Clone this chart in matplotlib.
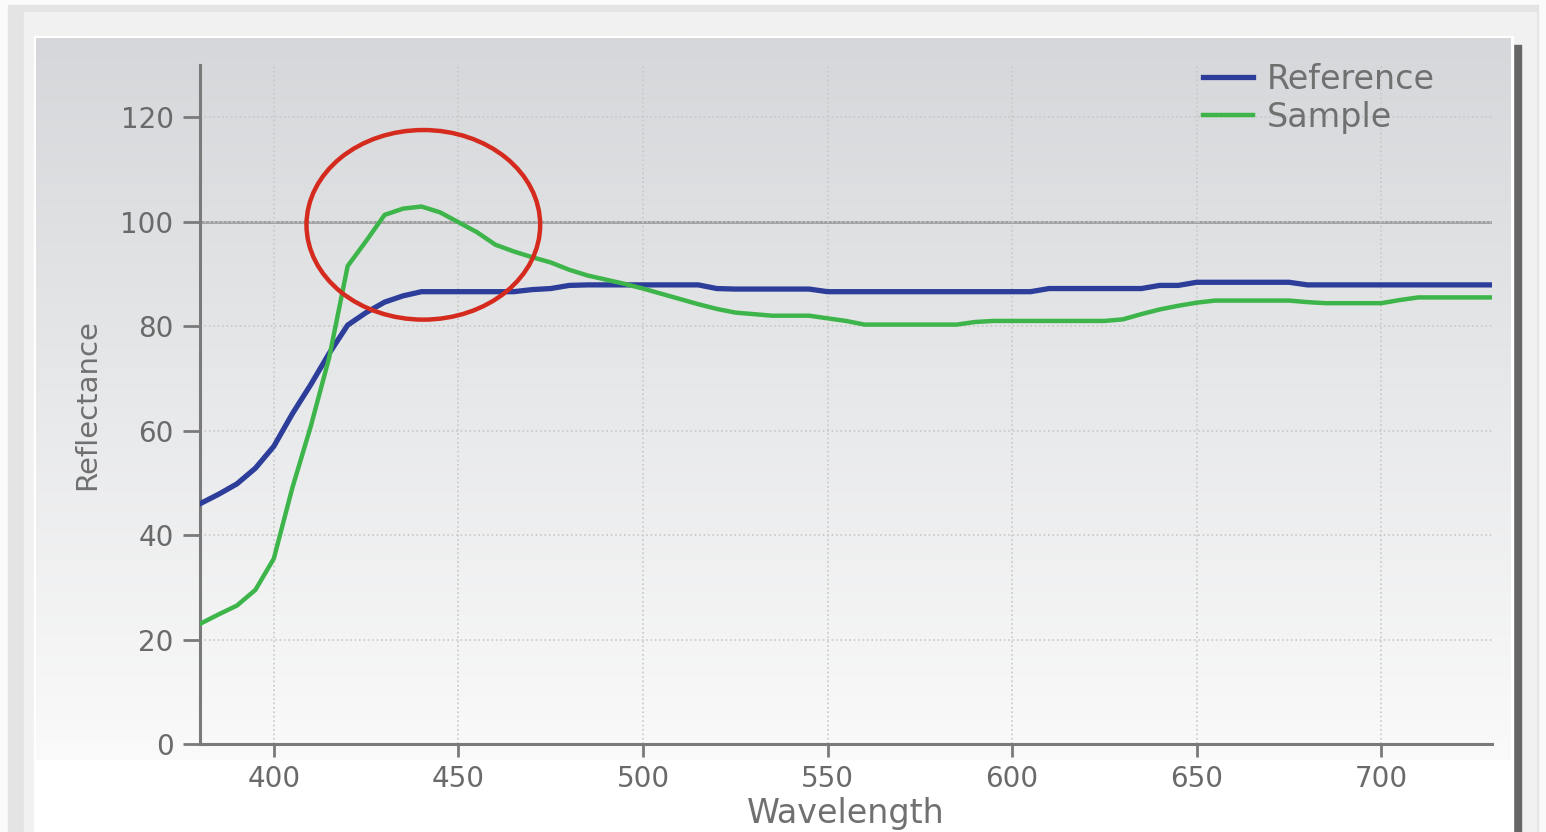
import numpy as np
import matplotlib
matplotlib.use("Agg")
import matplotlib.pyplot as plt
from matplotlib.patches import Rectangle, Ellipse

# wavelength grid (nm)
wavelength = list(range(380, 731, 5))

reference = [46.0, 47.8, 49.8, 52.8, 57.0, 63.2, 68.8, 74.8, 80.2, 82.6,
             84.6, 85.8, 86.6, 86.6, 86.6, 86.6, 86.6, 86.6, 87.0, 87.2,
             87.8, 87.9, 87.9, 87.9, 87.9, 87.9, 87.9, 87.9, 87.2, 87.1,
             87.1, 87.1, 87.1, 87.1, 86.6, 86.6, 86.6, 86.6, 86.6, 86.6,
             86.6, 86.6, 86.6, 86.6, 86.6, 86.6, 87.2, 87.2, 87.2, 87.2,
             87.2, 87.2, 87.8, 87.8, 88.4, 88.4, 88.4, 88.4, 88.4, 88.4,
             87.9, 87.9, 87.9, 87.9, 87.9, 87.9, 87.9, 87.9, 87.9, 87.9,
             87.9]

sample = [23.0, 24.8, 26.5, 29.5, 35.5, 49.0, 60.8, 74.0, 91.5, 96.3,
          101.3, 102.5, 102.9, 101.8, 99.9, 98.0, 95.6, 94.3, 93.2, 92.2,
          90.8, 89.7, 88.9, 88.1, 87.2, 86.2, 85.2, 84.2, 83.3, 82.6,
          82.3, 82.0, 82.0, 82.0, 81.5, 81.0, 80.3, 80.3, 80.3, 80.3,
          80.3, 80.3, 80.8, 81.0, 81.0, 81.0, 81.0, 81.0, 81.0, 81.0,
          81.3, 82.3, 83.2, 83.9, 84.5, 84.9, 84.9, 84.9, 84.9, 84.9,
          84.6, 84.4, 84.4, 84.4, 84.4, 85.0, 85.5, 85.5, 85.5, 85.5,
          85.5]

x_ticks = [400, 450, 500, 550, 600, 650, 700]
y_ticks = [0, 20, 40, 60, 80, 100, 120]

# highlight circle (data coords)
circle_center = (440.5, 99.4)
circle_w, circle_h = 63.3, 36.3

W, H = 1546, 832
fig = plt.figure(figsize=(W / 100, H / 100), dpi=100)
fig.patch.set_facecolor("#fafafa")

# window frame / panel background in pixel coordinates
bg = fig.add_axes([0, 0, 1, 1], zorder=-5)
bg.add_patch(Rectangle((8, 5), 1530, H, color="#e4e4e4", zorder=0))
bg.add_patch(Rectangle((24, 12), 1512, H, color="#f1f1f1", zorder=0))
bg.add_patch(Rectangle((1512, 45), 9, H, color="#666666", zorder=0))
bg.add_patch(Rectangle((34, 36), 1479, H, color="#ffffff", zorder=0))

rows = np.linspace(0, 1, 400)
top_c = np.array([213, 215, 218]) / 255
bot_c = np.array([250, 250, 250]) / 255
grad = top_c[None, :] * (1 - rows[:, None]) + bot_c[None, :] * rows[:, None]
bg.imshow(grad[:, None, :], extent=[36, 1511, 760, 38], aspect="auto",
          interpolation="bilinear", zorder=2)
bg.set_xlim(0, W)
bg.set_ylim(H, 0)
bg.axis("off")

# main plot
ax = fig.add_axes([200 / W, 88 / H, 1292 / W, 679 / H])
ax.set_facecolor("none")

ax.plot(wavelength, reference, color="#2c3d9a", lw=3.8, label="Reference",
        zorder=3)
ax.plot(wavelength, sample, color="#3db54a", lw=3.2, label="Sample", zorder=3)

ax.axhline(100, color="#9c9c9c", lw=2, zorder=1)
ax.grid(True, linestyle=":", color="#c8c8c8", lw=1.2, zorder=0)

ax.add_patch(Ellipse(circle_center, circle_w, circle_h, fill=False,
                     edgecolor="#d42b1e", lw=3.2, zorder=5, clip_on=False))

ax.set_xlim(380, 730)
ax.set_ylim(0, 130)
ax.set_xticks(x_ticks)
ax.set_yticks(y_ticks)

for s in ["top", "right"]:
    ax.spines[s].set_visible(False)
for s in ["left", "bottom"]:
    ax.spines[s].set_color("#7a7a7a")
    ax.spines[s].set_linewidth(2.2)

ax.tick_params(axis="x", length=9, width=2, color="#7a7a7a", labelsize=20,
               labelcolor="#6a6a6a", pad=6)
ax.tick_params(axis="y", length=12, width=2, color="#7a7a7a", labelsize=20,
               labelcolor="#6a6a6a", pad=7)

ax.set_xlabel("Wavelength", fontsize=24, color="#707070", labelpad=3)
ax.set_ylabel("Reflectance", fontsize=21, color="#707070", labelpad=14)

leg = ax.legend(loc="upper left", bbox_to_anchor=(1203 / W, (H - 63) / H),
                bbox_transform=fig.transFigure, frameon=False, fontsize=24,
                borderpad=0, borderaxespad=0, handlelength=1.5,
                handletextpad=0.4, labelspacing=0.15)
for t in leg.get_texts():
    t.set_color("#707070")

fig.savefig("out.png", dpi=100, facecolor=fig.get_facecolor())
